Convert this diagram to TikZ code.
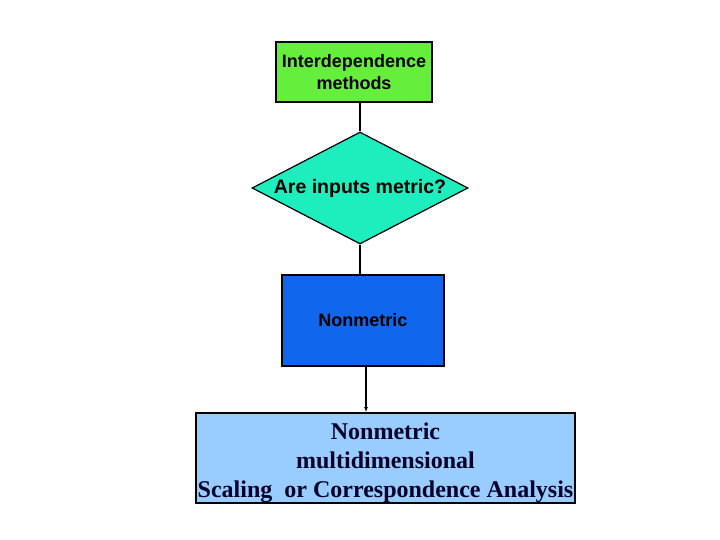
\documentclass[tikz,border=0pt]{standalone}
\usepackage{fontspec}
\setmainfont{Liberation Serif}
\setsansfont{Liberation Sans}
\usepackage{xcolor}
\usepackage{tikz}
\usetikzlibrary{arrows.meta,positioning,calc,shapes.geometric}
\definecolor{boxgreen}{RGB}{102,238,60}
\definecolor{boxaqua}{RGB}{30,238,190}
\definecolor{boxblue}{RGB}{17,102,238}
\definecolor{boxlight}{RGB}{153,204,255}
\definecolor{navytext}{RGB}{0,0,40}

\begin{document}
\begin{tikzpicture}[
    x=1pt, y=1pt,
    >={Latex[length=5pt,width=4pt]},
    start/.style={draw=black, line width=1.4pt, fill=boxgreen, minimum width=156pt, minimum height=60pt, inner sep=0pt, align=center, font=\sffamily\bfseries\fontsize{18}{22}\selectfont},
    decide/.style={draw=black, line width=1.2pt, fill=boxaqua, diamond, aspect=1.93, inner sep=0pt, minimum width=216pt, minimum height=112pt, align=center, font=\sffamily\bfseries\fontsize{19.5}{22}\selectfont},
    branch/.style={draw=black, line width=1.4pt, fill=boxblue, minimum width=162pt, minimum height=91pt, align=center, font=\sffamily\bfseries\fontsize{18}{21}\selectfont},
    result/.style={draw=black, line width=1.4pt, fill=boxlight, minimum width=379pt, minimum height=90pt, align=center, text=navytext, inner sep=0pt, font=\rmfamily\bfseries\fontsize{24}{29}\selectfont},
    link/.style={line width=1.3pt}
]
\useasboundingbox (0,0) rectangle (720,-540);

\node[start] (interdep) at (354,-72) {Interdependence\\methods};
\node[decide] (metric) at (360,-188) {Are inputs metric?};
\node[branch] (nonmetric) at (363,-320.5) {Nonmetric};
\node[result] (mds) at (385.5,-458) {\rule{0pt}{27pt}Nonmetric\\multidimensional\\Scaling\ \ or Correspondence Analysis};

\draw[link] (metric.north |- interdep.south) -- (metric.north);
\draw[link] (metric.south) -- (metric.south |- nonmetric.north);
\draw[link, ->] ([xshift=3pt]nonmetric.south) -- ([xshift=3pt]nonmetric.south |- mds.north);
\end{tikzpicture}
\end{document}
